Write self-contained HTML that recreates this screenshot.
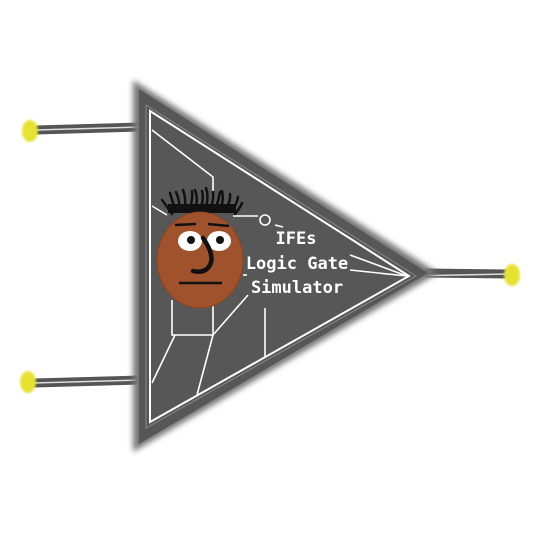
<!DOCTYPE html>
<html><head><meta charset="utf-8"><style>
html,body{margin:0;padding:0;background:#fff;width:538px;height:538px;overflow:hidden}
</style></head><body>
<svg width="538" height="538" viewBox="0 0 538 538">
<defs>
<filter id="blur" x="-10%" y="-10%" width="120%" height="120%"><feGaussianBlur stdDeviation="3"/></filter>
<filter id="yb"><feGaussianBlur stdDeviation="1"/></filter>
</defs>
<g>
<line x1="36" y1="130" x2="140" y2="127" stroke="#555" stroke-width="9"/>
<line x1="36" y1="130" x2="140" y2="127" stroke="#ddd" stroke-width="1.5"/>
<ellipse cx="30" cy="131" rx="8" ry="11" fill="#e6e232" filter="url(#yb)"/>
</g>
<g>
<line x1="34" y1="383" x2="140" y2="380" stroke="#555" stroke-width="9"/>
<line x1="34" y1="383" x2="140" y2="380" stroke="#ddd" stroke-width="1.5"/>
<ellipse cx="28" cy="382" rx="8" ry="11" fill="#e6e232" filter="url(#yb)"/>
</g>
<g>
<line x1="425" y1="273" x2="508" y2="274" stroke="#555" stroke-width="9"/>
<line x1="408" y1="276" x2="508" y2="274" stroke="#ddd" stroke-width="1.5"/>
<ellipse cx="512" cy="275" rx="8" ry="11" fill="#e6e232" filter="url(#yb)"/>
</g>
<polygon points="133,80 438,273 133,452" fill="#777" filter="url(#blur)"/>
<polygon points="139,89 428,273 139,444" fill="#575757"/>
<polygon points="150,111 409,276 150,422" fill="none" stroke="#fff" stroke-width="2"/>
<polygon points="146,105 416,276 146,428" fill="none" stroke="#888" stroke-width="1"/>
<g stroke="#fff" stroke-width="1.6" fill="none">
<polyline points="152,130 213,177 213,196"/>
<line x1="152" y1="206" x2="167" y2="215"/>
<line x1="233" y1="216" x2="258" y2="216"/>
<circle cx="265" cy="220" r="5"/>
<line x1="275" y1="225" x2="283" y2="227"/>
<line x1="350" y1="255" x2="407" y2="276"/>
<line x1="350" y1="270" x2="407" y2="276"/>
<line x1="243" y1="275" x2="247" y2="275"/>
<polyline points="172,300 172,335 213,335 213,300"/>
<line x1="213" y1="335" x2="248" y2="295"/>
<line x1="175" y1="335" x2="152" y2="383"/>
<line x1="213" y1="335" x2="197" y2="395"/>
<line x1="265" y1="308" x2="265" y2="357"/>
</g>
<g>
<g stroke="#111" stroke-width="2.5" stroke-linecap="round" fill="none">
<path d="M172,214 Q166,205 162,200 M176,212 Q172,200 170,193 M180,210 Q179,198 176,192 M185,208 Q186,198 183,190 M190,208 Q193,198 192,191 M196,207 Q198,197 195,190 M201,207 Q204,198 202,191 M206,207 Q209,196 206,188 M211,207 Q214,198 213,192 M216,208 Q219,198 220,192 M221,208 Q224,199 222,191 M226,209 Q231,200 230,194 M231,212 Q237,204 238,197 M235,214 Q240,208 242,203"/>
<rect x="168" y="204" width="68" height="9" fill="#111" stroke="none"/>
</g>
<ellipse cx="200" cy="260" rx="43" ry="48" fill="#a0522d" stroke="#8a4422" stroke-width="1"/>
<line x1="175" y1="225" x2="196" y2="224" stroke="#111" stroke-width="2.5"/>
<line x1="208" y1="224" x2="229" y2="226" stroke="#111" stroke-width="2.5"/>
<ellipse cx="190" cy="241" rx="12" ry="10" fill="#fff"/>
<ellipse cx="219" cy="241" rx="12" ry="10" fill="#fff"/>
<circle cx="191" cy="240" r="4" fill="#111"/>
<circle cx="220" cy="240" r="4" fill="#111"/>
<path d="M203,238 Q215,255 210,265 Q205,274 193,271" stroke="#111" stroke-width="4.5" fill="none" stroke-linecap="round"/>
<line x1="179" y1="283" x2="222" y2="283" stroke="#111" stroke-width="2.5"/>
</g>
<g font-family="'DejaVu Sans Mono', 'Liberation Mono', monospace" font-size="17" font-weight="bold" fill="#fff" text-anchor="middle">
<text x="296" y="244">IFEs</text>
<text x="297" y="269">Logic Gate</text>
<text x="297" y="293">Simulator</text>
</g>
</svg>
</body></html>
